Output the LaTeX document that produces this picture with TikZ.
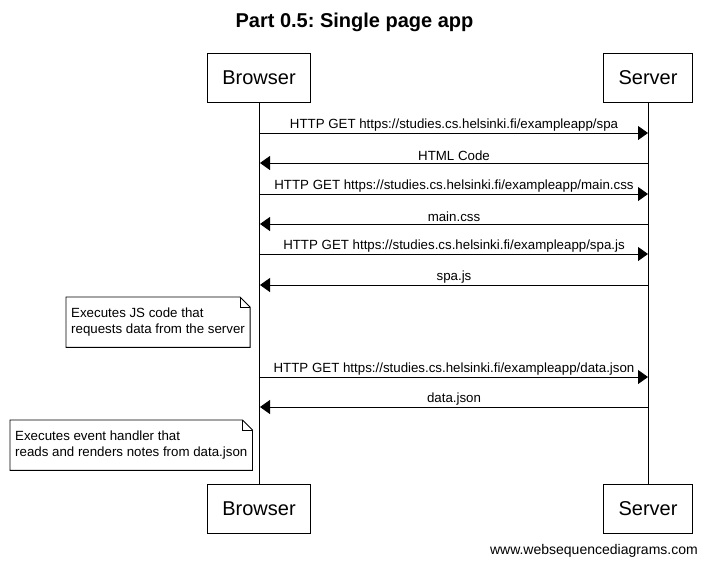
\documentclass[tikz,border=0pt]{standalone}
\usepackage{fontspec}
\setmainfont{Liberation Sans}
\usetikzlibrary{arrows.meta}
\frenchspacing

\tikzset{
    actor/.style={draw, line width=0.9pt, inner xsep=15pt, minimum height=49pt, font=\fontsize{20}{24}\selectfont},
    msg/.style={line width=0.9pt, -{Triangle[length=10pt, width=14pt]}},
    msglabel/.style={midway, above, inner sep=1.5pt, font=\fontsize{13.3}{16}\selectfont},
    notetext/.style={anchor=north west, align=left, inner sep=5pt, minimum height=50pt, font=\fontsize{13.3}{16}\selectfont}
}

\begin{document}
\begin{tikzpicture}[x=1pt, y=-1pt]
        \useasboundingbox (0,0) rectangle (707,566);

        % Title
        \node[font=\bfseries\fontsize{20}{24}\selectfont] (title) at (354.5,22) {Part 0.5: Single page app};

        % Draw the actors, top and bottom
        \node[actor] (browser) at (259,77.5) {Browser};
        \node[actor] (server) at (648,77.5) {Server};
        \node[actor] (browserend) at (259,508.5) {Browser};
        \node[actor] (serverend) at (648,508.5) {Server};

        % Draw the lifelines
        \draw[line width=0.9pt] (browser) -- (browserend);
        \draw[line width=0.9pt] (server) -- (serverend);

        % Points on the lifelines for the messages
        \foreach \y [count=\i] in {133,163,194,224,254,285,377,407} {
            \coordinate (b\i) at (260,\y);
            \coordinate (s\i) at (648,\y);
        }

        % Draw the messages
        \draw[msg] (b1) -- (s1) node[msglabel] {HTTP GET https://studies.cs.helsinki.fi/exampleapp/spa};
        \draw[msg] (s2) -- (b2) node[msglabel] {HTML Code};
        \draw[msg] (b3) -- (s3) node[msglabel] {HTTP GET https://studies.cs.helsinki.fi/exampleapp/main.css};
        \draw[msg] (s4) -- (b4) node[msglabel] {main.css};
        \draw[msg] (b5) -- (s5) node[msglabel] {HTTP GET https://studies.cs.helsinki.fi/exampleapp/spa.js};
        \draw[msg] (s6) -- (b6) node[msglabel] {spa.js};
        \draw[msg] (b7) -- (s7) node[msglabel] {HTTP GET https://studies.cs.helsinki.fi/exampleapp/data.json};
        \draw[msg] (s8) -- (b8) node[msglabel] {data.json};

        % Draw the notes with folded corners
        \node[notetext] (note1) at (66,297) {Executes JS code that\\requests data from the server};
        \draw[line width=0.9pt] (note1.north west) -- ([xshift=-10pt]note1.north east) -- ([yshift=-10pt]note1.north east) -- (note1.south east) -- (note1.south west) -- cycle;
        \draw[line width=0.6pt] ([xshift=-10pt]note1.north east) -- ([xshift=-10pt, yshift=-10pt]note1.north east) -- ([yshift=-10pt]note1.north east);

        \node[notetext] (note2) at (10,420) {Executes event handler that\\reads and renders notes from data.json};
        \draw[line width=0.9pt] (note2.north west) -- ([xshift=-10pt]note2.north east) -- ([yshift=-10pt]note2.north east) -- (note2.south east) -- (note2.south west) -- cycle;
        \draw[line width=0.6pt] ([xshift=-10pt]note2.north east) -- ([xshift=-10pt, yshift=-10pt]note2.north east) -- ([yshift=-10pt]note2.north east);

        % Footer
        \node[anchor=east, inner sep=0pt, font=\fontsize{14}{17}\selectfont] (footer) at (698,551) {www.websequencediagrams.com};

    \end{tikzpicture}
\end{document}
